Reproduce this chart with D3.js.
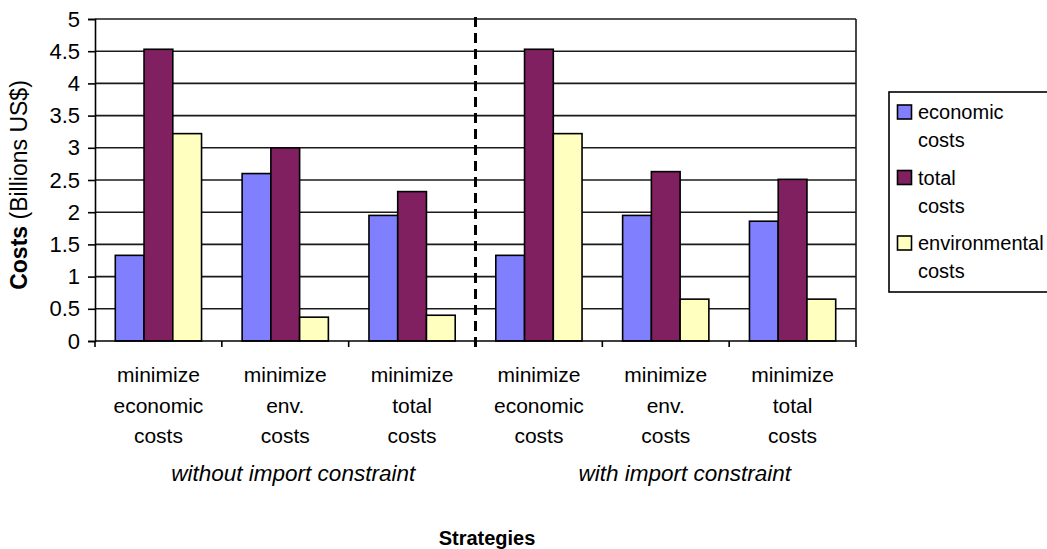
<!DOCTYPE html>
<html><head><meta charset="utf-8">
<script src="https://cdn.jsdelivr.net/npm/d3@7"></script>
<style>
html,body{margin:0;padding:0;background:#fff;}
svg{display:block;font-family:"Liberation Sans",Arial,sans-serif;}
</style></head>
<body>
<svg id="chart" width="1047" height="549"></svg>
<script>
const categories = [
  ["minimize","economic","costs"],
  ["minimize","env.","costs"],
  ["minimize","total","costs"],
  ["minimize","economic","costs"],
  ["minimize","env.","costs"],
  ["minimize","total","costs"]
];
const seriesNames = ["economic costs","total costs","environmental costs"];
const economicCosts = [1.33, 2.60, 1.95, 1.33, 1.95, 1.86];
const totalCosts = [4.53, 3.00, 2.32, 4.53, 2.63, 2.51];
const environmentalCosts = [3.22, 0.37, 0.40, 3.22, 0.65, 0.65];
const yTicks = [0, 0.5, 1, 1.5, 2, 2.5, 3, 3.5, 4, 4.5, 5];
const groupLabels = ["without import constraint", "with import constraint"];
const colors = ["#8080FF", "#802060", "#FFFFC0"];

const svg = d3.select("#chart");
const L = 95, R = 856, T = 19, B = 341;
const catIdx = d3.range(categories.length);
const x0 = d3.scaleBand().domain(catIdx).range([L, R]).padding(0);
const bw = x0.bandwidth();
const x1 = d3.scaleBand().domain(d3.range(3)).range([bw * 0.16, bw * 0.84]).padding(0);
const y = d3.scaleLinear().domain([0, 5]).range([B, T]);

// gridlines
svg.append("g").selectAll("line").data(yTicks.filter(d => d > 0)).join("line")
  .attr("x1", L).attr("x2", R).attr("y1", d => y(d)).attr("y2", d => y(d))
  .attr("stroke", "#1a1a1a").attr("stroke-width", 1.6);
// right border
svg.append("line").attr("x1", R).attr("x2", R).attr("y1", T).attr("y2", B)
  .attr("stroke", "#1a1a1a").attr("stroke-width", 1.6);

// bars
const data = [economicCosts, totalCosts, environmentalCosts];
const gBars = svg.append("g");
catIdx.forEach(i => {
  data.forEach((arr, s) => {
    gBars.append("rect")
      .attr("x", x0(i) + x1(s))
      .attr("y", y(arr[i]))
      .attr("width", x1.bandwidth())
      .attr("height", y(0) - y(arr[i]))
      .attr("fill", colors[s])
      .attr("stroke", "#000").attr("stroke-width", 1.6);
  });
});

// y axis
const yAxis = d3.axisLeft(y).tickValues(yTicks).tickSize(7).tickPadding(8)
  .tickFormat(d => String(d));
const gy = svg.append("g").attr("transform", `translate(${L},0)`).call(yAxis);
gy.select(".domain").attr("stroke", "#000").attr("stroke-width", 1.6);
gy.selectAll(".tick line").attr("stroke", "#000").attr("stroke-width", 1.6);
gy.selectAll(".tick text").attr("font-size", 22).attr("fill", "#000")
  .attr("font-family", "Liberation Sans, Arial, sans-serif");

// x axis (boundary ticks)
const boundaries = catIdx.map(i => x0(i)).concat([R]);
svg.append("line").attr("x1", L).attr("x2", R).attr("y1", B).attr("y2", B)
  .attr("stroke", "#000").attr("stroke-width", 1.6);
svg.append("g").selectAll("line").data(boundaries).join("line")
  .attr("x1", d => d).attr("x2", d => d).attr("y1", B).attr("y2", B + 6)
  .attr("stroke", "#000").attr("stroke-width", 1.6);

// category labels
const gx = svg.append("g").attr("font-size", 21).attr("text-anchor", "middle").attr("fill", "#000");
catIdx.forEach(i => {
  categories[i].forEach((line, k) => {
    gx.append("text").attr("x", x0(i) + bw / 2).attr("y", 382 + k * 30.5).text(line);
  });
});

// dashed divider
const divX = x0(3);
svg.append("line").attr("x1", divX).attr("x2", divX).attr("y1", T - 2).attr("y2", B + 8)
  .attr("stroke", "#000").attr("stroke-width", 3).attr("stroke-dasharray", "10,6");

// group labels
svg.append("text").attr("x", (L + divX) / 2 + 8).attr("y", 481).attr("text-anchor", "middle")
  .attr("font-size", 22.5).attr("font-style", "italic").text(groupLabels[0]);
svg.append("text").attr("x", (divX + R) / 2 + 19).attr("y", 481).attr("text-anchor", "middle")
  .attr("font-size", 22.5).attr("font-style", "italic").text(groupLabels[1]);

// axis titles
svg.append("text").attr("x", 487).attr("y", 545).attr("text-anchor", "middle")
  .attr("font-size", 20).attr("font-weight", "bold").text("Strategies");
const yt = svg.append("text").attr("transform", "translate(27,185) rotate(-90)")
  .attr("text-anchor", "middle").attr("font-size", 23);
yt.append("tspan").attr("font-weight", "bold").text("Costs");
yt.append("tspan").text(" (Billions US$)");

// legend
const leg = svg.append("g");
leg.append("rect").attr("x", 889).attr("y", 92).attr("width", 200).attr("height", 200)
  .attr("fill", "#fff").attr("stroke", "#000").attr("stroke-width", 1.6);
const legLines = [["economic","costs"],["total","costs"],["environmental","costs"]];
legLines.forEach((ln, s) => {
  const cy = 112 + s * 65.5;
  leg.append("rect").attr("x", 897.5).attr("y", cy - 7).attr("width", 14).attr("height", 14)
    .attr("fill", colors[s]).attr("stroke", "#000").attr("stroke-width", 1.6);
  ln.forEach((t, k) => {
    leg.append("text").attr("x", 918).attr("y", cy + 7 + k * 28).attr("font-size", 20).text(t);
  });
});
</script>
</body></html>
